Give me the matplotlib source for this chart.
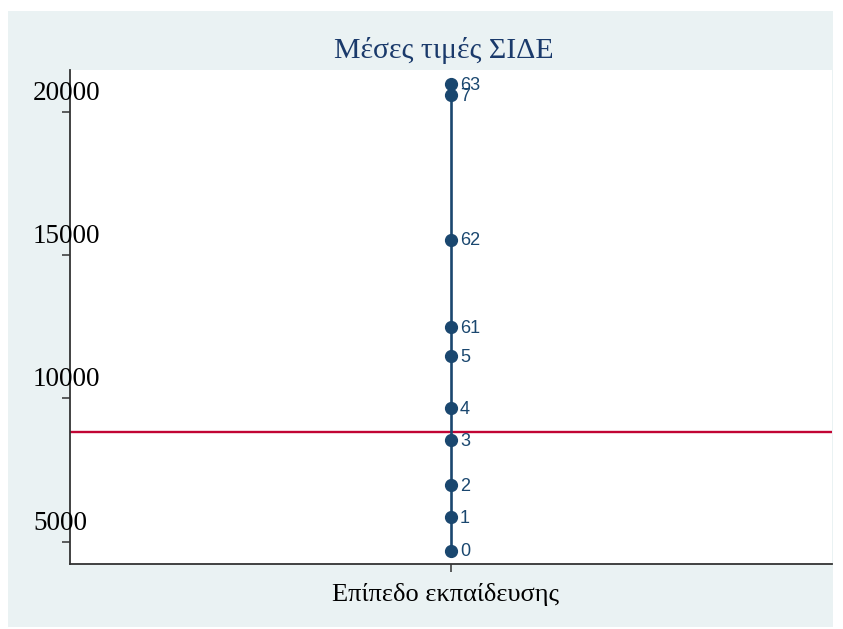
import matplotlib.pyplot as plt
import matplotlib.patches as patches
from matplotlib.transforms import blended_transform_factory

# mean values per education level
levels = ['0', '1', '2', '3', '4', '5', '61', '62', '7', '63']
means = [4690, 5850, 6975, 8545, 9650, 11475, 12485, 15525, 20580, 20965]
overall_mean = 8825

yticks = [5000, 10000, 15000, 20000]
title = 'Μέσες τιμές ΣΙΔΕ'
xlabel = 'Επίπεδο εκπαίδευσης'

W, H = 843, 629
navy = '#1a476f'
red = '#c10534'
panel = '#eaf2f3'

fig = plt.figure(figsize=(W / 100, H / 100), dpi=100)
fig.patch.set_facecolor('white')

# light background panel of the graph region
fig.patches.append(patches.Rectangle((8 / W, 1 - 627 / H), (833 - 8) / W, (627 - 11) / H,
                                     transform=fig.transFigure, facecolor=panel,
                                     edgecolor='none', zorder=-10))

left, right, top, bottom = 70, 832, 70, 564
ax = fig.add_axes([left / W, 1 - bottom / H, (right - left) / W, (bottom - top) / H])
ax.set_facecolor('white')

px_per_unit = 28.68 / 1000
ax.set_ylim(5000 - (564 - 541.7) / px_per_unit, 20000 + (111.7 - 70) / px_per_unit)
ax.set_xlim(0, 2)

x = [1] * len(means)
ax.plot(x, means, color=navy, lw=1.9, marker='o', ms=8.5, zorder=3)
ax.axhline(overall_mean, color=red, lw=1.7, zorder=2)

for lab, v in zip(levels, means):
    ax.annotate(lab, xy=(1, v), xytext=(9, -1), textcoords='offset pixels',
                ha='left', va='center', fontsize=13, color=navy,
                family='Liberation Sans', zorder=4)

for s in ['top', 'right']:
    ax.spines[s].set_visible(False)
for s in ['left', 'bottom']:
    ax.spines[s].set_color('#333333')
    ax.spines[s].set_linewidth(1.3)

ax.set_xticks([1])
ax.set_xticklabels([''])
ax.set_yticks(yticks)
ax.set_yticklabels([''] * len(yticks))
ax.tick_params(axis='both', length=6, width=1.1, color='#333333')

# stata style tick labels sitting above the tick, overlapping the axis
trans = blended_transform_factory(ax.transAxes, ax.transData)
for v in yticks:
    ax.annotate(str(v), xy=(0, v), xycoords=trans, xytext=(33 - 70, 12),
                textcoords='offset pixels', ha='left', va='baseline',
                fontsize=19.5, family='Liberation Serif', color='black',
                annotation_clip=False)

fig.text(444 / W, 1 - 50 / H, title, ha='center', va='center', fontsize=21.5,
         family='Liberation Serif', color='#1a3a6b')
fig.text(446 / W, 1 - 594 / H, xlabel, ha='center', va='center', fontsize=19,
         family='Liberation Serif', color='black')

fig.savefig('out.png', dpi=100)
